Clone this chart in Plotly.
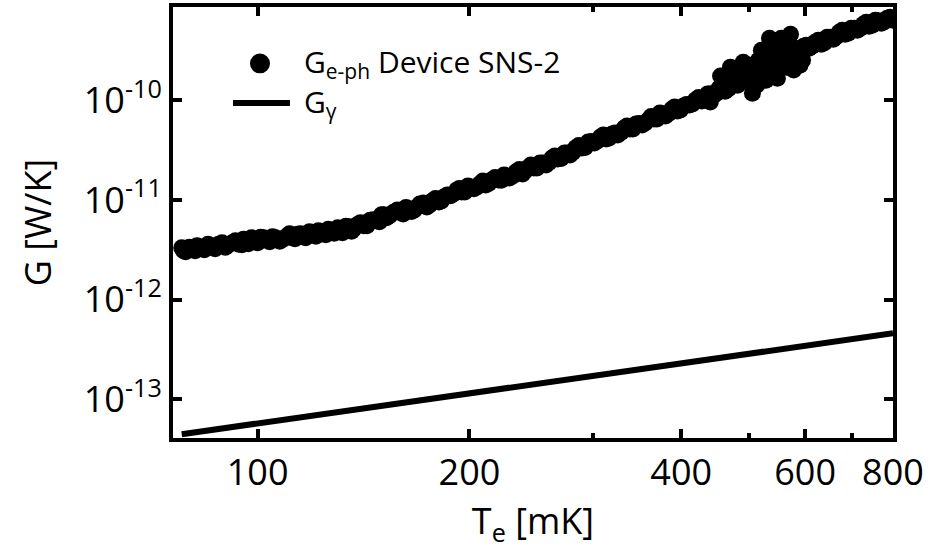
import plotly.graph_objects as go

# Electron-phonon thermal conductance of device SNS-2 versus electron temperature
T_eph_mK = [
    78, 79, 81, 82, 84, 86, 87, 89, 91, 93, 95, 96, 98, 100, 102, 104, 106, 109, 111, 113,
    115, 117, 120, 122, 125, 127, 130, 132, 135, 137, 140, 143, 146, 149, 151, 154, 158, 161,
    164, 167, 170, 174, 177, 181, 184, 188, 192, 195, 199, 203, 207, 211, 215, 220, 224, 228,
    233, 238, 242, 247, 252, 257, 262, 267, 273, 278, 283, 289, 295, 301, 307, 313, 319, 325,
    332, 338, 345, 352, 359, 366, 373, 380, 388, 395, 403, 411, 419, 428, 436, 445, 453, 462,
    472, 481, 490, 500, 510, 520, 530, 541, 552, 563, 574, 585, 597, 608, 620, 633, 645, 658,
    671, 684, 698, 712, 726, 740, 755, 770, 785, 800,
    440, 455, 470, 490, 505, 515, 534, 545, 548, 560, 572, 578, 590,
    78.5, 80, 81.5, 83, 85, 86.5, 88, 90, 92, 94, 95.5, 97, 99, 101, 103, 105, 107.5, 110,
    112, 114, 116, 118.5, 121, 123.5, 126, 128.5, 131, 133.5, 136, 138.5, 141.5, 144.5,
    147.5, 150, 152.5, 156, 159.5, 162.5, 165.5, 168.5, 172, 175.5, 179, 182.5, 186, 190,
    193.5, 197, 201, 205, 209, 213, 217.5, 222, 226, 230.5, 235.5, 240, 244.5, 249.5, 254.5,
    259.5, 264.5, 270, 275.5, 280.5, 286, 292, 298, 304, 310, 316, 322, 328.5, 335, 341.5,
    348.5, 355.5, 362.5, 369.5, 376.5, 384, 391.5, 399, 407, 415, 423.5, 432, 440.5, 449,
    457.5, 467, 476.5, 485.5, 495, 505, 515, 525, 535.5, 546.5, 557.5, 568.5, 579.5, 591,
    602.5, 614, 626.5, 639, 651.5, 664.5, 677.5, 691, 705, 719, 733, 747.5, 762.5, 777.5,
    792.5,
    520, 528, 538, 550, 555, 565, 568, 582, 500, 512, 486, 595, 542, 526, 558,
]
G_eph_pW = [
    3.31, 3.02, 3.24, 3.47, 3.16, 3.47, 3.24, 3.72, 3.55, 3.89, 3.55, 3.89, 4.17, 3.72, 4.17,
    3.80, 4.17, 4.07, 4.57, 4.07, 4.57, 4.17, 4.57, 4.90, 4.47, 4.79, 5.25, 4.68, 5.37, 5.13,
    5.89, 5.50, 6.31, 6.03, 7.08, 6.92, 7.94, 7.24, 8.13, 7.94, 9.12, 8.51, 9.77, 9.55, 10.7,
    11.0, 12.6, 12.0, 13.8, 12.9, 14.5, 14.1, 15.8, 15.8, 17.8, 16.6, 19.1, 18.2, 20.9, 20.9,
    23.4, 22.4, 26.3, 25.7, 29.5, 28.2, 33.1, 33.1, 38.0, 37.2, 42.7, 40.7, 45.7, 44.7, 52.5,
    51.3, 57.5, 56.2, 63.1, 64.6, 74.1, 69.2, 81.3, 77.6, 87.1, 89.1, 100, 97.7, 115, 112,
    132, 123, 148, 141, 178, 158, 214, 178, 282, 204, 309, 240, 316, 288, 347, 331, 380, 363,
    427, 407, 479, 457, 525, 501, 575, 550, 631, 589, 661, 631,
    95.5, 174, 214, 240, 117, 251, 417, 355, 166, 380, 457, 200, 224,
    3.09, 3.35, 3.09, 3.35, 3.59, 3.35, 3.59, 3.35, 3.72, 3.59, 4.03, 3.63, 3.94, 4.22, 3.94,
    4.27, 3.85, 4.32, 4.17, 4.52, 4.32, 4.79, 4.32, 4.73, 5.07, 4.62, 5.07, 5.43, 4.84, 5.62,
    5.50, 6.24, 6.17, 7.08, 6.61, 7.50, 7.50, 8.41, 7.67, 8.51, 9.33, 8.91, 10.35, 9.77, 11.2,
    11.5, 13.0, 12.0, 13.5, 13.5, 15.5, 14.6, 16.8, 15.7, 17.4, 17.4, 20.2, 19.5, 22.4, 20.9,
    23.4, 23.7, 27.5, 26.0, 29.5, 29.9, 35.1, 33.5, 38.5, 38.9, 44.7, 41.7, 46.8, 47.3, 55.0,
    51.3, 58.2, 58.9, 68.4, 64.6, 72.4, 73.3, 85.1, 79.4, 90.2, 91.2, 106, 101, 116, 117,
    136, 130, 153, 150, 193, 162, 237, 178, 266, 221, 305, 260, 331, 302, 355, 347, 398, 376,
    427, 432, 501, 468, 525, 525, 603, 562, 624, 610, 676,
    316, 158, 355, 200, 417, 214, 380, 263, 224, 141, 191, 251, 282, 240, 316,
]
G_eph = [g * 1e-12 for g in G_eph_pW]

# Photonic thermal conductance
T_gamma_mK = [78, 100, 200, 400, 800]
G_gamma = [4.49e-14, 5.75e-14, 1.15e-13, 2.30e-13, 4.60e-13]

# Axis ticks
x_major = [100, 200, 400, 600, 800]
x_minor = [300, 500, 700]
y_ticks = [1e-13, 1e-12, 1e-11, 1e-10]
y_labels = ["10<sup>-13</sup>", "10<sup>-12</sup>", "10<sup>-11</sup>", "10<sup>-10</sup>"]

FONT = "Open Sans"

fig = go.Figure()
fig.add_trace(go.Scatter(
    x=T_eph_mK, y=G_eph, mode="markers",
    marker=dict(color="black", size=17, line=dict(width=0)),
    showlegend=False,
))
fig.add_trace(go.Scatter(
    x=T_gamma_mK, y=G_gamma, mode="lines",
    line=dict(color="black", width=6),
    showlegend=False,
))

# Hand-placed legend (paper coordinates)
fig.add_shape(type="circle", xref="paper", yref="paper",
              x0=0.1069, x1=0.1347, y0=0.846, y1=0.892,
              fillcolor="black", line=dict(width=0))
fig.add_shape(type="line", xref="paper", yref="paper",
              x0=0.0833, x1=0.1625, y0=0.777, y1=0.777,
              line=dict(color="black", width=6))
fig.add_annotation(xref="paper", yref="paper", x=0.179, y=0.871,
                   xanchor="left", yanchor="middle", showarrow=False,
                   text="G<sub>e-ph</sub> Device SNS-2",
                   font=dict(family=FONT, size=30, color="black"))
fig.add_annotation(xref="paper", yref="paper", x=0.179, y=0.777,
                   xanchor="left", yanchor="middle", showarrow=False,
                   text="G<sub>γ</sub>",
                   font=dict(family=FONT, size=30, color="black"))

axis_common = dict(
    showgrid=False, zeroline=False,
    showline=True, linecolor="black", linewidth=4, mirror="ticks",
    ticks="inside", ticklen=9, tickwidth=4, tickcolor="black",
    tickfont=dict(family=FONT, size=36, color="black"),
)

fig.update_xaxes(
    type="log", range=[1.8797, 2.9031],
    tickmode="array", tickvals=x_major, ticktext=[str(v) for v in x_major],
    minor=dict(tickmode="array", tickvals=x_minor, ticks="inside",
               ticklen=5, tickwidth=4, tickcolor="black"),
    title=dict(text="T<sub>e</sub> [mK]", font=dict(family=FONT, size=36, color="black"),
               standoff=4),
    **axis_common,
)
fig.update_yaxes(
    type="log", range=[-13.386, -9.067],
    tickmode="array", tickvals=y_ticks, ticktext=y_labels,
    title=dict(text="G [W/K]", font=dict(family=FONT, size=36, color="black"),
               standoff=22),
    **axis_common,
)

fig.update_layout(
    width=936, height=549,
    margin=dict(l=173, r=43, t=3, b=111),
    plot_bgcolor="white", paper_bgcolor="white",
    font=dict(family=FONT, color="black"),
)

fig.write_html("out.html")
